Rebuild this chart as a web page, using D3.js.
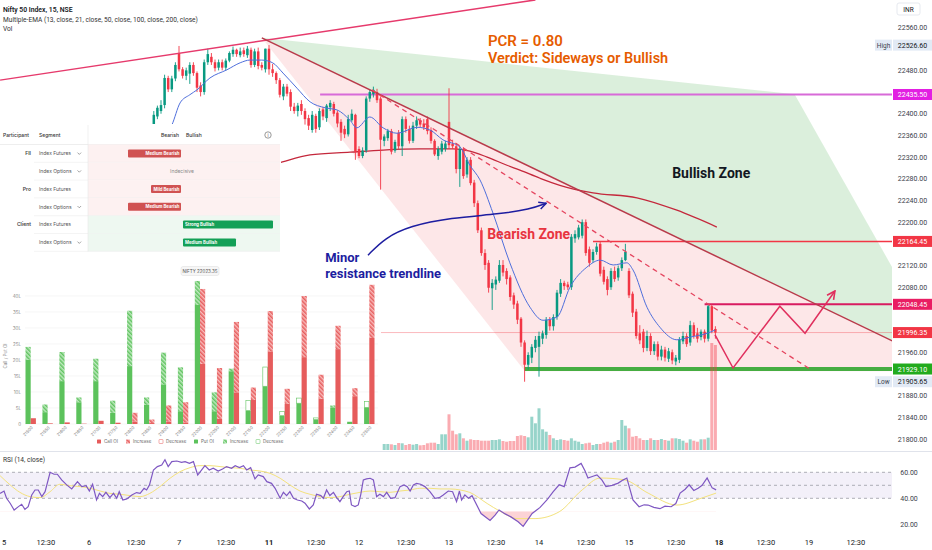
<!DOCTYPE html>
<html><head><meta charset="utf-8">
<script src="https://cdn.jsdelivr.net/npm/d3@7"></script>
<style>
html,body{margin:0;padding:0;background:#fff;overflow:hidden}
svg{display:block}
text{font-family:Roboto,"Noto Sans",sans-serif}
</style></head><body>
<svg id="chart" width="932" height="550"></svg>
<script>
// ---------------- DATA ----------------
const candleStart = 43; // first drawn 15-min candle index (day "5" 09:15 = 0)
const opens = [22379,22395,22405,22416,22466,22445,22465,22512,22482,22470,
22474,22490,22475,22452,22440,22495,22505,22495,22485,22495,
22485,22498,22510,22518,22508,22517,22508,22518,22490,22515,
22490,22482,22520,22482,22475,22462,22432,22450,22440,22413,
22405,22418,22405,22392,22370,22396,22375,22408,22392,22412,
22418,22402,22385,22372,22362,22388,22398,22335,22322,22332,
22428,22436,22440,22428,22350,22355,22368,22332,22365,22340,
22390,22372,22350,22378,22388,22382,22390,22370,22350,22322,
22330,22335,22385,22345,22340,22298,22335,22288,22315,22273,
22235,22185,22143,22125,22078,22085,22092,22121,22110,22098,
22065,22050,22022,21978,21937,21950,21968,21970,21985,21992,
22020,22008,22025,22068,22088,22085,22080,22170,22172,22175,
22200,22150,22130,22145,22160,22112,22095,22080,22110,22098,
22115,22130,22110,22068,22035,21995,21998,21968,21990,21962,
21975,21952,21965,21948,21960,21943,21946,21980,21990,21978,
22010,21995,21988,21998,21985,22045,22003];
const highs = [22405,22415,22425,22472,22470,22470,22495,22525,22486,22485,
22495,22495,22478,22458,22500,22520,22512,22500,22500,22500,
22502,22515,22524,22520,22522,22522,22525,22522,22520,22522,
22495,22520,22526.6,22492,22478,22466,22455,22455,22445,22420,
22420,22425,22410,22398,22405,22400,22410,22412,22418,22425,
22422,22406,22390,22378,22398,22408,22400,22340,22338,22432,
22445,22450,22446,22432,22362,22372,22372,22352,22370,22395,
22395,22378,22385,22395,22392,22390,22395,22375,22353,22340,
22350,22350,22447,22352,22345,22340,22338,22320,22320,22278,
22240,22190,22150,22130,22095,22100,22130,22130,22115,22102,
22070,22055,22025,21982,21960,21975,21990,21998,22000,22025,
22025,22030,22075,22095,22092,22090,22178,22185,22195,22205,
22205,22155,22150,22162,22165,22118,22100,22115,22118,22120,
22135,22160,22115,22072,22040,22010,22003,22000,21995,21980,
21980,21972,21970,21968,21965,21955,21988,21998,21995,22018,
22015,22005,22002,22002,22048,22048.45,22008];
const lows = [22375,22390,22400,22410,22440,22440,22460,22478,22465,22462,
22455,22470,22440,22432,22435,22490,22490,22478,22480,22480,
22480,22495,22505,22505,22504,22505,22503,22485,22486,22482,
22480,22476,22472,22468,22455,22430,22425,22432,22405,22400,
22395,22398,22380,22370,22365,22365,22370,22388,22385,22405,
22395,22375,22350,22355,22358,22385,22315,22318,22318,22328,
22422,22430,22420,22260,22340,22350,22325,22328,22335,22322,
22365,22345,22346,22372,22375,22370,22362,22345,22322,22315,
22325,22330,22335,22335,22290,22265,22280,22282,22268,22228,
22180,22138,22112,22070,22038,22075,22088,22100,22085,22055,
22040,22012,21970,21905.65,21928,21940,21960,21915,21975,21985,
22000,22000,22020,22062,22075,22075,22075,22162,22168,22170,
22138,22118,22125,22140,22100,22085,22065,22075,22090,22092,
22110,22128,22060,22025,21985,21975,21960,21962,21955,21955,
21945,21945,21943,21942,21938,21936,21940,21975,21970,21972,
21985,21978,21982,21978,21980,21995,21985];
const closes = [22398,22411,22416,22466,22445,22465,22490,22482,22470,22480,
22490,22475,22448,22440,22495,22510,22495,22484,22495,22485,
22498,22512,22518,22510,22515,22510,22520,22490,22515,22488,
22485,22520,22482,22475,22462,22435,22450,22437,22413,22405,
22415,22405,22390,22378,22398,22372,22405,22395,22415,22420,
22400,22382,22365,22362,22390,22400,22330,22322,22332,22428,
22440,22444,22425,22352,22358,22368,22330,22348,22340,22390,
22372,22350,22378,22388,22380,22375,22368,22350,22325,22335,
22345,22345,22342,22340,22298,22335,22285,22315,22272,22235,
22185,22143,22121,22079,22088,22094,22121,22107,22095,22062,
22048,22020,21978,21937,21955,21970,21983,21990,21995,22020,
22008,22025,22070,22088,22082,22080,22173,22178,22190,22200,
22143,22125,22145,22155,22105,22090,22075,22110,22095,22115,
22130,22145,22065,22033,21990,21982,21968,21990,21962,21975,
21952,21965,21950,21962,21945,21950,21983,21990,21975,22010,
21990,21985,21998,21985,22045,22000,21996.35];

const volStart = 107; // first visible volume bar
const volumes = [60,60,57,50,70,67,50,60,53,60,
47,50,67,73,73,60,157,157,357,193,
157,167,117,93,107,100,100,93,93,93,
100,100,107,90,83,90,90,140,147,140,
127,333,267,417,207,183,150,117,100,107,
100,93,117,93,83,60,67,73,50,60,
60,73,83,73,83,100,300,243,217,133,
140,117,100,100,117,100,100,110,100,93,
117,117,110,93,73,107,93,83,107,107,
123,1070,1050];

const emaFastIdx = [44.7,48,50.3,53,55,58.6,63.3,67,69.7,73,76,78.9,82.8,86.4,90.6,93.9,97.5,99.4,103,106.7,110.6,116.1,119.7,123.3,128,130.8,133.6,137.2,141.9,147.5,151.1,155,158.6,163.3,167,170.6,174.4,176.1,180,183.6,188.3,192,196.7,198.9];
const emaFastVal = [22352,22379,22420,22435,22444,22466,22481,22494,22499,22499,22494,22475,22447,22422,22411,22407,22388,22374,22394,22374,22364,22375,22370,22352,22339,22305,22278,22217,22125,22043,22019,22025,22080,22117,22130,22121,22125,22112,22043,22006,21983,21988,21995,22001];
const emaSlowIdx = [69.7,77.5,86.4,97.5,106.7,117,126.1,130.8,135.6,141.1,144.7,150.3,155.8,165,177.2,188.3,199.4];
const emaSlowVal = [22296,22309,22324,22329,22333,22335,22335,22331,22320,22305,22296,22281,22268,22254,22245,22222,22191];

const rsiIdx = [0.3,1.4,2.1,3.1,4.2,5.4,6.3,7.2,8.1,9.1,10,10.9,11.9,12.8,14.2,15.3,16.2,17.4,18.8,20.2,21.8,23,24.2,25.1,26,27.1,27.9,28.8,29.7,30.8,31.8,32.7,33.4,34.4,35.5,36.9,38.2,39.2,40.3,41,41.8,42.9,44,45.2,46.1,47,48,49.4,50.7,51.7,52.9,54,55.2,56.3,57.2,58.4,59.5,60.9,62.1,63.2,64.6,65.6,66.8,67.9,68.8,69.9,71.1,72,73.4,74.4,75.7,76.7,78.1,79,79.9,80.8,81.8,82.9,84.1,85,86.2,87.3,88.2,89.4,90.1,91,91.9,92.9,93.8,94.7,95.6,96.6,97.3,97.9,98.9,99.8,100.5,101.2,102.1,103.1,104,104.9,105.8,106.8,107.7,108.8,110,111.4,112.5,113.4,114.2,115.1,116,117.1,118.3,119.7,121.1,122.3,123.4,124.8,126,127.1,127.9,128.5,129.4,130.4,131.4,133.9,136.4,137.8,138.9,140.6,142.2,144.2,145.6,147,148.1,150.3,152.2,153.9,155.6,157,158.6,160,161.7,162.8,163.6,165,166.1,167.5,168.6,170.3,172,173.3,174.4,176.1,177.8,179.2,180.3,181.9,183.6,185,186.7,188,189.2,190.6,191.7,193,194.2,195.3,196.7,198.1,199.2];
const rsiVal = [43.8,45.6,40,36.2,31,33.6,35.4,31.5,33.6,42.6,46.4,46.4,41.3,45.1,60,58.5,58.5,54.1,50.3,47.2,52.8,49,49.7,45.6,50.8,38.7,43.8,41.3,44.6,40.5,43.8,40,45.1,38.7,39.5,42.6,44.4,43.8,47.7,46.4,50.3,61.8,64.4,65.6,69.7,64.4,68.2,68.7,67.7,68.2,66.9,68.2,57.9,61.8,65.1,61.8,63.1,61,62.6,64.4,63.1,65.1,63.6,65.1,61.8,63.6,54.9,58,56.7,52.8,51.5,47.7,40,44.6,42.1,45.1,40,38.7,37.9,36.2,31.8,34.9,43.1,42.1,40,46.4,42.1,44.6,40.5,37.4,41.3,45.1,45.6,34.9,33.6,34.9,43.1,54.1,54.9,55.4,54.1,41.3,43.1,41.3,44.6,40,40.5,49,50.3,49,45.6,50.3,51.5,50.8,49,45.1,40,40.5,42.6,45.6,45.1,37.4,45.6,38.7,42.6,40,42,28.3,23,27,31,28,25.7,22,18.4,24,28.3,33,38.7,45,50.4,49,63.4,64,66.8,61,55.6,57,58,54,49,50,51.7,54,55.6,38.7,33.5,35,34.8,33,32,34,33.5,36,44,47,50.4,46,47.8,50,55.6,48,46.5];
const rsiMaIdx = [0.3,3.1,5.8,8.6,11.4,14.2,16.9,19.7,22.5,25.3,28.1,30.8,33.6,36.4,39.2,41.9,44.7,47.5,50.3,53.1,55.8,58.6,61.4,64.2,66.9,69.7,72.5,75.3,78.1,80.8,83.6,86.4,89.2,91.9,94.7,97.5,100.3,103.1,105.8,108.6,111.4,114.2,116.9,119.7,122.5,125.3,128.1,130.8,135.6,139.2,143.9,148.9,155.6,162,167,173.6,180.3,188.3,195,199.2];
const rsiMaVal = [57.4,50.3,44.6,41.3,40.5,45.1,50.8,49.7,49,47.7,45.6,43.8,43.1,42.1,41.3,43.8,49,55.4,60.5,63.6,65.1,65.1,64.4,63.6,63.1,61.8,61,59.2,55.4,50.3,45.6,43.1,41.3,40.5,41.3,43.1,44.6,45.6,45.1,44.6,45.6,46.4,47.7,47.7,47.2,47.2,46.4,44.5,36,30,24.4,24.4,29.6,46.5,55.6,54.3,44,34.8,40,44];

const priceTicks = [21800,21840,21880,21920,21960,22000,22040,22080,22120,22160,22200,22240,22280,22320,22360,22400,22440,22480,22520,22560];
const levelPrices = [22435.50, 22164.45, 22048.45, 21996.35, 21929.10];
const levelStartIdx = [89.2, 165, 196, 0, 146];
const extremeLabels = ["High","Low"];
const extremePrices = [22526.60, 21905.65];
const rsiTicks = [60, 40, 20];
const rsiLevels = [60, 50, 40];
const timeLabelIdx = [0,13,25,38,50,63,75,88,100,113,125,138,150,163,175,188,200,213,225,238];
const timeLabels = ["5","12:30","6","12:30","7","12:30","11","12:30","12","12:30","13","12:30","14","12:30","15","12:30","18","12:30","19","12:30"];

// drawings (candle index, price)
const risingLine = [[0.3,22462],[149,22610]];
const descLine = [[73,22540],[247.5,21983]];
const dashedLine = [[103.6,22444],[225.3,21929]];
const zigzag = [[198.9,21992],[203.9,21931],[216.9,22045],[223.9,21995],[232.2,22073]];
const greenZone = [[73,22540],[221,22436],[248.6,22111]];
const pinkZoneBottom = [[248.6,21925],[146.1,21925]];
const blueArrow = [[102.5,22139],[107.2,22171],[114.2,22193],[125.3,22208],[139.2,22215],[147.5,22224],[152,22235]];

// participant table
const participants = ["FII","","Pro","","Client",""];
const segments = ["Index Futures","Index Options","Index Futures","Index Options","Index Futures","Index Options"];
const hasDropdown = [true,true,false,true,false,true];
const verdicts = ["Medium Bearish","Indecisive","Mild Bearish","Medium Bearish","Strong Bullish","Medium Bullish"];
const strength = [-2,0,-1,-2,3,2];

// option chain OI (lakh)
const strikes = [21500,21550,21600,21650,21700,21750,21800,21850,21900,21950,22000,22050,22100,22150,22200,22250,22300,22350,22400,22450,22500];
const putOI  = [20.1,3.7,13.4,6.8,13.4,3.5,18.1,6.0,12.4,4.0,37.2,4.0,16.5,4.2,11.8,2.6,6.5,1.4,5.2,0.7,5.2];
const putChg = [4.0,2.4,9.1,1.5,7.0,3.8,17.3,2.3,9.9,13.7,7.5,5.9,0.8,-3.1,-6.0,-1.3,-1.6,-0.5,0.6,0,-1.8];
const callOI = [1.8,0.2,0.5,0.1,1.0,0.4,0.8,0.3,0.8,0.5,18.8,1.6,9.9,7.5,22.7,6.3,20.9,7.9,23.4,8.7,26.9];
const callChg= [0,0,0,0,0,0,2.7,1.1,5.0,6.3,23.4,15.9,22.0,3.9,12.6,4.7,19.1,7.5,7.3,2.5,16.6];
const oiTicks = [0,5,10,15,20,25,30,35,40];

// ---------------- DRAW ----------------
const svg = d3.select('#chart');
const PR = 892, MB = 451, RT = 452, RB = 533;
const xS = d3.scaleLinear().domain([0,250]).range([-1,899]);
const yP = d3.scaleLinear().domain([21800,22560]).range([439,27]);
const yV = d3.scaleLinear().domain([0,1070]).range([450,343]);
const yR = d3.scaleLinear().domain([20,60]).range([524.3,472.3]);

const defs = svg.append('defs');
function clip(id,x,y,w,h){defs.append('clipPath').attr('id',id).append('rect').attr('x',x).attr('y',y).attr('width',w).attr('height',h);}
clip('cMain',0,0,PR,MB); clip('cRsi',0,RT,PR,RB-RT); clip('cOS',0,yR(30),PR,RB-yR(30));
function marker(id,color,sz){
  defs.append('marker').attr('id',id).attr('viewBox','0 0 10 10').attr('refX',9).attr('refY',5)
   .attr('markerWidth',sz).attr('markerHeight',sz).attr('markerUnits','userSpaceOnUse').attr('orient','auto')
   .append('path').attr('d','M1,1 L9,5 L1,9').attr('fill','none').attr('stroke',color).attr('stroke-width',1.6);
}
marker('mZig','#e0305e',10); marker('mBlue','#1d1da0',9);
function hatch(id,bg,fg){
  const p=defs.append('pattern').attr('id',id).attr('patternUnits','userSpaceOnUse').attr('width',3).attr('height',3).attr('patternTransform','rotate(-45)');
  p.append('rect').attr('width',3).attr('height',3).attr('fill',bg);
  p.append('rect').attr('width',1.5).attr('height',3).attr('fill',fg);
}
hatch('hG','#bfe9bf','#62c462'); hatch('hR','#f8b8b8','#e65f5f');

const line = d3.line().x(d=>xS(d[0])).y(d=>yP(d[1]));
const zip = (a,b)=>a.map((v,k)=>[v,b[k]]);
const lineAt = (seg,i)=>seg[0][1]+(seg[1][1]-seg[0][1])*(i-seg[0][0])/(seg[1][0]-seg[0][0]);
const edgeI = 248.6;

const g = svg.append('g').attr('clip-path','url(#cMain)');
// zones
g.append('path').attr('d', line([...greenZone,[edgeI,lineAt(descLine,edgeI)]])+'Z').attr('fill','rgba(76,175,80,0.2)');
g.append('path').attr('d', line([descLine[0],[edgeI,lineAt(descLine,edgeI)],...pinkZoneBottom])+'Z').attr('fill','rgba(242,54,69,0.12)');

// levels
const lvStyle = [['#d86ad8',2],['#f23645',1.5],['#d81b60',2],['rgba(242,54,69,0.35)',1],['#46ad42',4]];
levelPrices.forEach((p,k)=>{
  g.append('line').attr('x1',xS(levelStartIdx[k])).attr('x2',PR).attr('y1',yP(p)).attr('y2',yP(p))
   .attr('stroke',lvStyle[k][0]).attr('stroke-width',lvStyle[k][1]);
});

// volume
volumes.forEach((v,k)=>{
  const i=volStart+k, j=i-candleStart, up=closes[j]>=opens[j];
  g.append('rect').attr('x',xS(i)-1.5).attr('width',3).attr('y',yV(v)).attr('height',yV(0)-yV(v))
   .attr('fill',up?'rgba(8,153,129,0.42)':'rgba(242,54,69,0.42)');
});

// slow EMA
g.append('path').attr('d',d3.line().x(d=>xS(d[0])).y(d=>yP(d[1])).curve(d3.curveMonotoneX)(zip(emaSlowIdx,emaSlowVal))).attr('fill','none').attr('stroke','#c4283c').attr('stroke-width',1.3);

// candles
opens.forEach((o,k)=>{
  const i=candleStart+k, c=closes[k], h=highs[k], l=lows[k];
  const col = c>=o ? '#089981' : '#f23645';
  const x = xS(i);
  g.append('line').attr('x1',x).attr('x2',x).attr('y1',yP(h)).attr('y2',yP(l)).attr('stroke',col).attr('stroke-width',0.9);
  const y1=yP(Math.max(o,c)), y2=yP(Math.min(o,c));
  g.append('rect').attr('x',x-1.25).attr('width',2.5).attr('y',y1).attr('height',Math.max(0.8,y2-y1)).attr('fill',col);
});

// fast EMA
g.append('path').attr('d',d3.line().x(d=>xS(d[0])).y(d=>yP(d[1])).curve(d3.curveMonotoneX)(zip(emaFastIdx,emaFastVal))).attr('fill','none').attr('stroke','#4f6fdc').attr('stroke-width',1);

// trendlines
g.append('path').attr('d',line(risingLine)).attr('stroke','#e63a6c').attr('stroke-width',1.5).attr('fill','none');
g.append('path').attr('d',line([descLine[0],[edgeI,lineAt(descLine,edgeI)]])).attr('stroke','#b83a4a').attr('stroke-width',1.5).attr('fill','none');
g.append('path').attr('d',line(dashedLine)).attr('stroke','#e5455f').attr('stroke-width',1.3).attr('stroke-dasharray','5,4').attr('fill','none');
g.append('path').attr('d',line(zigzag)).attr('stroke','#e0305e').attr('stroke-width',1.5).attr('fill','none').attr('marker-end','url(#mZig)');

// annotation texts
function ann(i,p,txt,size,col,weight){
  return svg.append('text').attr('x',xS(i)).attr('y',yP(p)).text(txt).attr('font-size',size).attr('fill',col).attr('font-weight',weight);
}
ann(135.8,22525,'PCR = 0.80',15,'#e65c00',600);
ann(135.8,22494,'Verdict: Sideways or Bullish',14.5,'#e65c00',600);
ann(187,22281,'Bullish Zone',14,'#131722',700);
ann(135.6,22169,'Bearish Zone',14,'#e8343f',700);

// ---------- participant table inset ----------
const tg = svg.append('g');
tg.append('rect').attr('x',0).attr('y',124).attr('width',281).attr('height',134).attr('fill','#fff');
const tf = 'Inter, Roboto, sans-serif';
const ttxt=(x,y,t,opt={})=>tg.append('text').attr('x',x).attr('y',y).text(t).style('font-family',tf)
   .attr('font-size',opt.s||5).attr('fill',opt.c||'#333').attr('font-weight',opt.w||400).attr('text-anchor',opt.a||'start');
ttxt(3,137,'Participant',{w:500}); ttxt(39,137,'Segment',{w:500});
ttxt(179,137,'Bearish',{w:500,a:'end'}); ttxt(186,137,'Bullish',{w:500});
tg.append('circle').attr('cx',268).attr('cy',135).attr('r',3.2).attr('fill','none').attr('stroke','#555').attr('stroke-width',0.6);
ttxt(268,137,'i',{s:4.5,a:'middle',c:'#555'});
tg.append('line').attr('x1',0).attr('x2',280).attr('y1',144.5).attr('y2',144.5).attr('stroke','#e6e6e6').attr('stroke-width',0.7);
const wS = d3.scaleLinear().domain([0,1,2,3]).range([0,30,53,90]);
verdicts.forEach((v,k)=>{
  const top=144.5+17.8*k, cy=top+8.9, s=strength[k];
  tg.append('rect').attr('x',88).attr('y',top).attr('width',192).attr('height',17.8).attr('fill',s>0?'#eef8f1':'#fdf1f1');
  tg.append('line').attr('x1',34).attr('x2',280).attr('y1',top+17.8).attr('y2',top+17.8).attr('stroke','#ececec').attr('stroke-width',0.6);
  if(participants[k]) ttxt(31,cy+1.8,participants[k],{w:600,a:'end',c:'#444'});
  ttxt(39,cy+1.8,segments[k],{c:'#555'});
  if(hasDropdown[k]) tg.append('path').attr('d',`M77.5,${cy-0.8} L79.3,${cy+1} L81.1,${cy-0.8}`).attr('fill','none').attr('stroke','#666').attr('stroke-width',0.6);
  const w=wS(Math.abs(s));
  if(s<0){
    tg.append('rect').attr('x',181-w).attr('y',cy-4).attr('width',w).attr('height',8).attr('rx',1).attr('fill','#d05252');
    ttxt(179.5,cy+1.6,v,{s:4.3,w:700,c:'#fff',a:'end'});
  } else if(s>0){
    tg.append('rect').attr('x',183).attr('y',cy-4).attr('width',w).attr('height',8).attr('rx',1).attr('fill','#13a057');
    ttxt(185,cy+1.6,v,{s:4.3,w:700,c:'#fff'});
  } else {
    ttxt(182,cy+1.8,v,{c:'#888',a:'middle'});
  }
});
tg.append('line').attr('x1',88).attr('x2',88).attr('y1',125).attr('y2',251.5).attr('stroke','#e8e8e8').attr('stroke-width',0.6);

// ---------- OI inset ----------
const og = svg.append('g');
og.append('rect').attr('x',0).attr('y',258).attr('width',381).attr('height',190).attr('fill','#fff');
const xO = d3.scalePoint().domain(strikes).range([30.7,369.3]);
const yO = d3.scaleLinear().domain([0,40]).range([424,296]);
const otxt=(x,y,t,opt={})=>og.append('text').attr('x',x).attr('y',y).text(t).style('font-family',tf)
   .attr('font-size',opt.s||4.5).attr('fill',opt.c||'#888').attr('text-anchor',opt.a||'start').attr('font-weight',opt.w||400);
oiTicks.forEach(v=>{
  og.append('line').attr('x1',25).attr('x2',378).attr('y1',yO(v)).attr('y2',yO(v)).attr('stroke','#f0f0f0').attr('stroke-width',0.6);
  otxt(21,yO(v)+1.5,v===0?'0':v+'L',{a:'end'});
});
og.append('text').attr('transform','translate(7,356) rotate(-90)').attr('text-anchor','middle').text('Call / Put OI')
  .style('font-family',tf).attr('font-size',4.5).attr('fill','#888');
og.append('rect').attr('x',181).attr('y',266.5).attr('width',38).attr('height',9).attr('rx',2).attr('fill','#f6f6f6').attr('stroke','#dcdcdc').attr('stroke-width',0.5);
otxt(200,272.6,'NIFTY 22023.35',{a:'middle',c:'#555'});
function oiBar(x,base,chg,col,hatchId){
  const w=5.2;
  og.append('rect').attr('x',x).attr('width',w).attr('y',yO(base)).attr('height',yO(0)-yO(base)).attr('fill',col);
  if(chg>0) og.append('rect').attr('x',x).attr('width',w).attr('y',yO(base+chg)).attr('height',yO(base)-yO(base+chg)).attr('fill',`url(#${hatchId})`);
  if(chg<0) og.append('rect').attr('x',x+0.3).attr('width',w-0.6).attr('y',yO(base-chg)).attr('height',yO(base)-yO(base-chg)).attr('fill','#fff').attr('stroke',col).attr('stroke-width',0.6);
}
strikes.forEach((s,k)=>{
  const c=xO(s);
  oiBar(c-5.2,putOI[k],putChg[k],'#5cc25c','hG');
  oiBar(c,callOI[k],callChg[k],'#e65c5c','hR');
  og.append('text').attr('transform',`translate(${c+2.5},${428}) rotate(-45)`).attr('text-anchor','end').text(s)
    .style('font-family',tf).attr('font-size',4.2).attr('fill','#888');
});
const legendItems=[[97,'Call OI','#e65c5c','s'],[126,'Increase','#e65c5c','h'],[159,'Decrease','#e65c5c','o'],[194,'Put OI','#5cc25c','s'],[223,'Increase','#5cc25c','h'],[256,'Decrease','#5cc25c','o']];
legendItems.forEach(([x,t,c,kind])=>{
  const r=og.append('rect').attr('x',x).attr('y',439.5).attr('width',4).attr('height',4).attr('rx',0.6);
  if(kind==='s') r.attr('fill',c);
  else if(kind==='h') r.attr('fill',c==='#e65c5c'?'url(#hR)':'url(#hG)');
  else r.attr('fill','#fff').attr('stroke',c).attr('stroke-width',0.5);
  otxt(x+7,443.3,t,{s:4.5,c:'#666'});
});

// ---------- blue annotation (over inset) ----------
svg.append('path').attr('d',d3.line().x(d=>xS(d[0])).y(d=>yP(d[1])).curve(d3.curveBasis)(blueArrow))
  .attr('fill','none').attr('stroke','#1d1da0').attr('stroke-width',1.5).attr('marker-end','url(#mBlue)');
ann(90.6,22126,'Minor',13,'#1d1da0',700);
ann(90.6,22097,'resistance trendline',13,'#1d1da0',700);

// ---------- price axis ----------
const ax = svg.append('g');
const labelPrices = levelPrices.concat(extremePrices);
priceTicks.forEach(p=>{
  const clash = labelPrices.some(q=>Math.abs(yP(q)-yP(p))<10.5);
  if(clash) return;
  ax.append('text').attr('x',912.5).attr('y',yP(p)+2.5).attr('text-anchor','middle').attr('font-size',7).attr('fill','#3a3e4a').text(p.toFixed(2));
});
const lvBg = ['#e21fe2','#f23645','#e91e63','#f23645','#22ab1e'];
levelPrices.forEach((p,k)=>{
  ax.append('rect').attr('x',893).attr('y',yP(p)-5.5).attr('width',39).attr('height',11).attr('fill',lvBg[k]);
  ax.append('text').attr('x',912.5).attr('y',yP(p)+2.5).attr('text-anchor','middle').attr('font-size',7).attr('fill','#fff').text(p.toFixed(2));
});
extremePrices.forEach((p,k)=>{
  ax.append('rect').attr('x',875).attr('y',yP(p)-5.5).attr('width',17).attr('height',11).attr('fill','#e2eaf5');
  ax.append('text').attr('x',883.5).attr('y',yP(p)+2.5).attr('text-anchor','middle').attr('font-size',6.5).attr('fill','#3a3e4a').text(extremeLabels[k]);
  ax.append('rect').attr('x',893).attr('y',yP(p)-5.5).attr('width',39).attr('height',11).attr('fill','#e2eaf5');
  ax.append('text').attr('x',912.5).attr('y',yP(p)+2.5).attr('text-anchor','middle').attr('font-size',7).attr('fill','#131722').text(p.toFixed(2));
});
ax.append('rect').attr('x',897).attr('y',3).attr('width',23).attr('height',12).attr('rx',2).attr('fill','#fff').attr('stroke','#e0e3eb').attr('stroke-width',0.8);
ax.append('text').attr('x',908.5).attr('y',11.5).attr('text-anchor','middle').attr('font-size',6.5).attr('fill','#131722').text('INR');

// header
svg.append('text').attr('x',3).attr('y',11.5).attr('font-size',6.8).attr('font-weight',600).attr('fill','#131722').text('Nifty 50 Index, 15, NSE');
svg.append('text').attr('x',3).attr('y',21.5).attr('font-size',6.6).attr('fill','#333').text('Multiple-EMA (13, close, 21, close, 50, close, 100, close, 200, close)');
svg.append('text').attr('x',3).attr('y',31).attr('font-size',6.6).attr('fill','#333').text('Vol');

// ---------- RSI pane ----------
svg.append('line').attr('x1',0).attr('x2',932).attr('y1',RT-0.5).attr('y2',RT-0.5).attr('stroke','#e0e3eb').attr('stroke-width',1);
const rg = svg.append('g').attr('clip-path','url(#cRsi)');
rg.append('rect').attr('x',0).attr('width',PR).attr('y',yR(60)).attr('height',yR(40)-yR(60)).attr('fill','rgba(126,87,194,0.09)');
rsiLevels.forEach(v=>rg.append('line').attr('x1',0).attr('x2',PR).attr('y1',yR(v)).attr('y2',yR(v))
  .attr('stroke','#9a9ca6').attr('stroke-width',0.8).attr('stroke-dasharray','3,3'));
const rsiPts = zip(rsiIdx,rsiVal);
rg.append('g').attr('clip-path','url(#cOS)').append('path')
  .attr('d',d3.area().x(d=>xS(d[0])).y0(yR(30)).y1(d=>yR(d[1]))(rsiPts)).attr('fill','rgba(242,54,69,0.22)');
rg.append('path').attr('d',d3.line().x(d=>xS(d[0])).y(d=>yR(d[1])).curve(d3.curveMonotoneX)(zip(rsiMaIdx,rsiMaVal)))
  .attr('fill','none').attr('stroke','#f3e27c').attr('stroke-width',1);
rg.append('path').attr('d',d3.line().x(d=>xS(d[0])).y(d=>yR(d[1]))(rsiPts))
  .attr('fill','none').attr('stroke','#7e57c2').attr('stroke-width',1.2);
svg.append('text').attr('x',3).attr('y',462).attr('font-size',6.6).attr('fill','#333').text('RSI (14, close)');
rsiTicks.forEach(v=>svg.append('text').attr('x',909).attr('y',yR(v)+2.5).attr('text-anchor','middle').attr('font-size',7).attr('fill','#3a3e4a').text(v.toFixed(2)));

// ---------- time axis ----------
timeLabelIdx.forEach((i,k)=>{
  const bold = timeLabels[k]==='11'||timeLabels[k]==='18';
  svg.append('text').attr('x',Math.max(4,xS(i))).attr('y',545).attr('text-anchor','middle').attr('font-size',7.5)
   .attr('font-weight',bold?700:400).attr('fill','#131722').text(timeLabels[k]);
});
</script></body></html>
